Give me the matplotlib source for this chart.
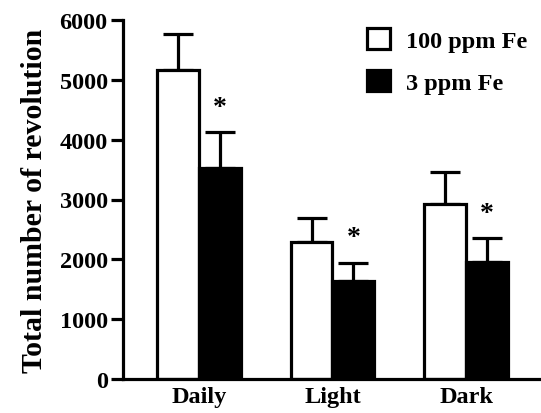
import matplotlib
matplotlib.use("Agg")
import matplotlib.pyplot as plt
import numpy as np
from matplotlib.patches import Patch

categories = ["Daily", "Light", "Dark"]
series_names = ["100 ppm Fe", "3 ppm Fe"]
high_fe = [5170, 2290, 2930]
high_fe_err = [600, 400, 530]
low_fe = [3530, 1640, 1955]
low_fe_err = [590, 305, 395]
significance = ["*", "*", "*"]
y_ticks = [0, 1000, 2000, 3000, 4000, 5000, 6000]

plt.rcParams['font.family'] = ['Liberation Serif', 'DejaVu Serif']
plt.rcParams['font.weight'] = 'bold'

fig = plt.figure(figsize=(5.41, 4.14), dpi=100)
ax = fig.add_axes([123/541, 1 - 380/414, 1 - 123/541 + 0.01, (380 - 21)/414])

x = np.arange(len(categories))
w = 0.313
lw = 2.3
ax.bar(x - w/2, high_fe, w, color="white", edgecolor="black", linewidth=lw, zorder=2)
ax.bar(x + w/2, low_fe, w, color="black", edgecolor="black", linewidth=lw, zorder=2)
ax.errorbar(x - w/2, high_fe, yerr=[[0]*3, high_fe_err], fmt="none", ecolor="black",
            elinewidth=lw, capsize=10.5, capthick=lw, zorder=1)
ax.errorbar(x + w/2, low_fe, yerr=[[0]*3, low_fe_err], fmt="none", ecolor="black",
            elinewidth=lw, capsize=10.5, capthick=lw, zorder=1)
for xi, v, e, s in zip(x, low_fe, low_fe_err, significance):
    ax.annotate(s, (xi + w/2, v + e), xytext=(0, 9), textcoords="offset points",
                ha="center", va="bottom", fontsize=20, fontweight="bold")

ax.set_xlim(-0.567, 0.6 + 2)
ax.set_ylim(0, 6000)
ax.set_yticks(y_ticks)
ax.set_xticks(x)
ax.set_xticklabels(categories, fontsize=17.5, fontweight="bold")
ax.tick_params(axis="y", labelsize=17.5, width=lw, length=9, direction="out", pad=2)
ax.tick_params(axis="x", length=0, pad=5)
for lab in ax.get_yticklabels():
    lab.set_fontweight("bold")
ax.spines["top"].set_visible(False)
ax.spines["right"].set_visible(False)
ax.spines["left"].set_linewidth(lw)
ax.spines["bottom"].set_linewidth(lw)
ax.set_ylabel("Total number of revolution", fontsize=21.5, fontweight="bold", labelpad=8)

handles = [Patch(facecolor="white", edgecolor="black", linewidth=lw, label=series_names[0]),
           Patch(facecolor="black", edgecolor="black", linewidth=lw, label=series_names[1])]
ax.legend(handles=handles, loc="upper left", bbox_to_anchor=(367/541, 1 - 29/414),
          bbox_transform=fig.transFigure, frameon=False,
          handlelength=0.95, handleheight=0.95, handletextpad=0.65, labelspacing=0.75,
          borderpad=0, borderaxespad=0, prop={"weight": "bold", "size": 17.5})

fig.savefig("out.png", dpi=100)
